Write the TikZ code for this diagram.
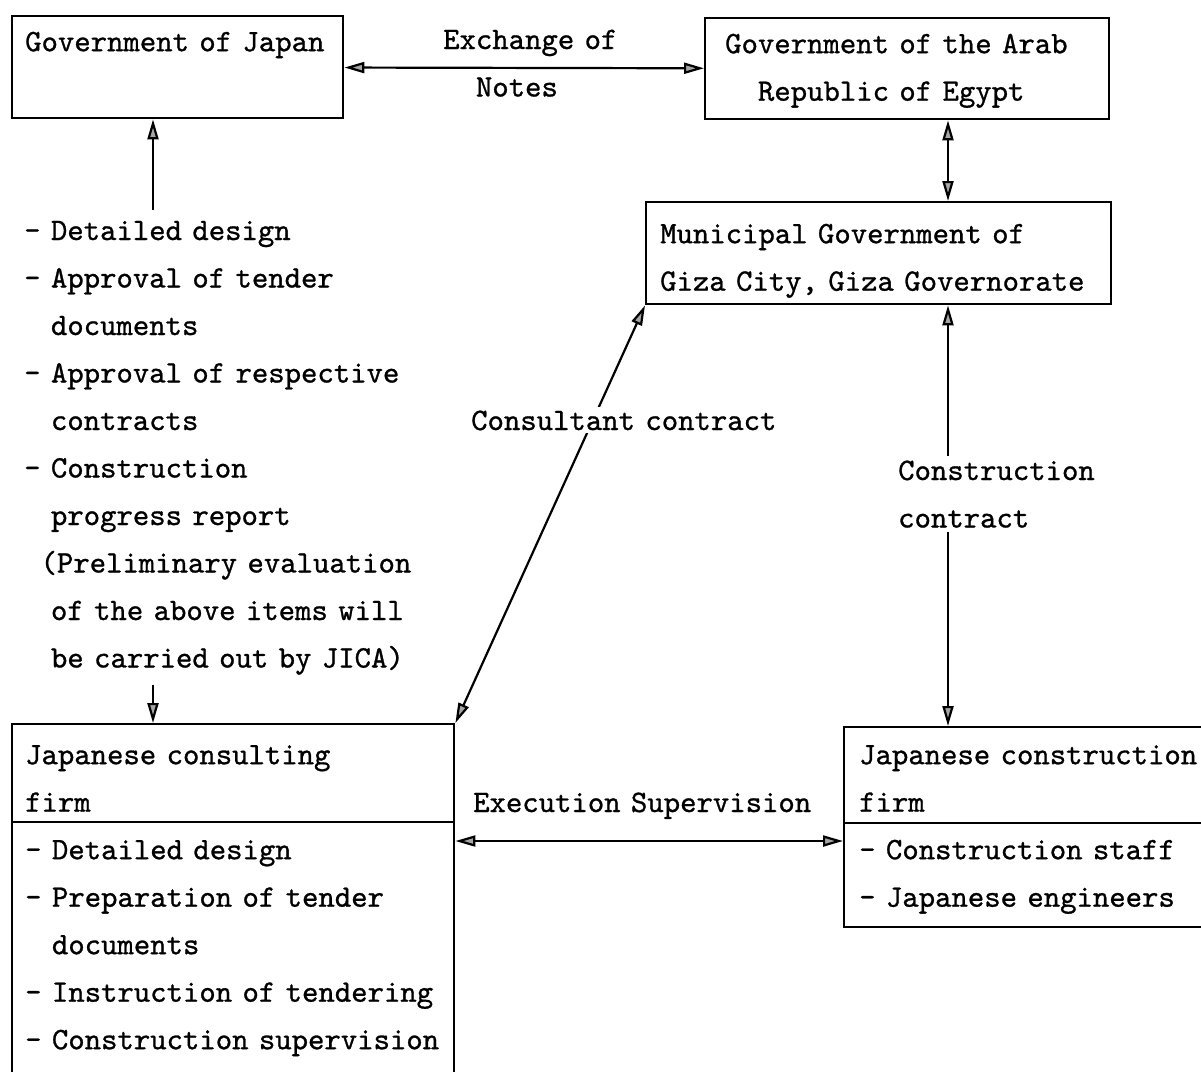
\documentclass[tikz,border=0pt]{standalone}
\usepackage{fontspec}
\usetikzlibrary{arrows.meta}
\newfontfamily\typed{lmmono10-regular.otf}[FakeBold=0.9]

\begin{document}
\begin{tikzpicture}[x=1pt, y=-1pt,
  >={Triangle[length=20pt,width=11pt,fill=gray!70]},
  every node/.style={font=\typed\fontsize{31.2}{47.5}\selectfont, text height=20pt},
  box/.style={draw, line width=2.4pt, anchor=north west, align=left},
  link/.style={line width=2.2pt},
  lbl/.style={anchor=base west, align=left, inner sep=3pt}]
\useasboundingbox (0,0) rectangle (1201,1071);
\clip (0,0) rectangle (1201,1071);

% the five parties
\node[box, inner xsep=13pt, inner ysep=15pt, text width=305pt, text depth=52pt] (japan) at (11,15) {Government of Japan};
\node[box, inner xsep=20pt, inner ysep=15pt, text width=364pt, text depth=51pt] (egypt) at (704,17) {Government of the Arab\\\phantom{Go}Republic of Egypt};
\node[box, inner xsep=14pt, inner ysep=21pt, text width=437pt, text depth=40pt] (giza) at (645,201) {Municipal Government of\\Giza City, Giza Governorate};
\node[box, inner xsep=13pt, inner ysep=20pt, text width=416pt, text depth=307pt] (consult) at (11,723) {Japanese consulting\\firm\\- Detailed design\\- Preparation of tender\\\phantom{- }documents\\- Instruction of tendering\\- Construction supervision};
\node[box, inner xsep=15pt, inner ysep=17pt, text width=380pt, text depth=146pt] (builder) at (843,726) {Japanese construction\\firm\\- Construction staff\\- Japanese engineers};
\draw[line width=2.4pt] ([yshift=-99pt]consult.north west) -- ([yshift=-99pt]consult.north east);
\draw[line width=2.4pt] ([yshift=-97pt]builder.north west) -- ([yshift=-97pt]builder.north east);

% items reported to Japan
\node[lbl, text width=420pt, inner xsep=0pt, inner ysep=10pt] (report) at (24,240) {- Detailed design\\- Approval of tender\\\phantom{- }documents\\- Approval of respective\\\phantom{- }contracts\\- Construction\\\phantom{- }progress report\\\phantom{-}(Preliminary evaluation\\\phantom{- }of the above items will\\\phantom{- }be carried out by JICA)};

\node[lbl, text width=190pt] (notes) at (440,49) {Exchange of\\\phantom{Ex}Notes};
\node[lbl, text width=345pt] (exec) at (470,812) {Execution Supervision};

\coordinate (drop) at (153,0);
\coordinate (spine) at (948,0);
\coordinate (exrow) at (0,841);

\draw[->, link] (report.north -| drop) -- (japan.south -| drop);
\draw[->, link] (report.south -| drop) -- (consult.north -| drop);
\draw[<->, link] (japan) -- (egypt);
\draw[<->, link] (egypt.south -| spine) -- (giza.north -| spine);
\draw[<->, link] (giza.south west) -- (consult.north east);
\draw[<->, link] (giza.south -| spine) -- (builder.north -| spine);
\draw[<->, link] (consult.east |- exrow) -- (builder.west |- exrow);

% contract labels sit on top of their lines
\node[lbl, fill=white, text width=310pt] (cons) at (468,430) {Consultant contract};
\node[lbl, fill=white, text width=198pt, inner ysep=4pt] (works) at (895,480) {Construction\\contract};
\end{tikzpicture}
\end{document}
